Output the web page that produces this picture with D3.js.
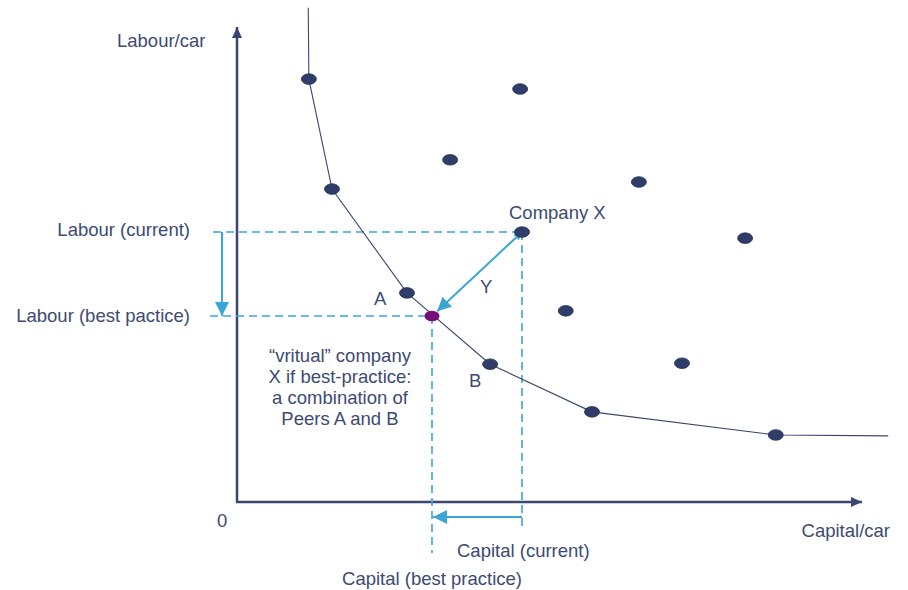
<!DOCTYPE html>
<html><head><meta charset="utf-8">
<script src="https://cdn.jsdelivr.net/npm/d3@7"></script>
<style>body{margin:0;background:#fff}svg{display:block}</style>
</head><body>
<svg id="c" width="908" height="590"></svg>
<script>
// Peer companies (capital per car, labour per car)
const peerCapital = [11.5, 45.3, 34.1, 15.2, 64.3, 81.3, 27.2, 52.6, 40.5, 71.2, 56.8, 86.2];
const peerLabour  = [89.6, 87.5, 72.5, 66.3, 67.8, 55.9, 44.3, 40.5, 29.2, 29.4, 19.1, 14.2];
// Efficient frontier
const frontierCapital = [11.4, 11.5, 15.2, 27.2, 40.5, 56.8, 86.2, 104.2];
const frontierLabour  = [104.7, 89.6, 66.3, 44.3, 29.2, 19.1, 14.2, 14.0];
// Company X and its virtual best-practice counterpart
const companyX = [45.6, 57.2];
const virtualX = [31.2, 39.4];
const virtualLines = ["\u201Cvritual\u201D company", "X if best-practice:", "a combination of", "Peers A and B"];

const W = 908, H = 590;
const x = d3.scaleLinear().domain([0, 100]).range([237, 862]);
const y = d3.scaleLinear().domain([0, 100]).range([502, 30]);

const svg = d3.select("#c");
const navy = "#3a4670", dot = "#2f3d68", blue = "#3aa6d6", txt = "#3d4a72", purple = "#7a0c7a";
const font = "Liberation Sans, Arial, sans-serif";

const defs = svg.append("defs");
function marker(id, color, w, h) {
  defs.append("marker").attr("id", id).attr("viewBox", `0 0 ${w} ${h}`)
    .attr("refX", w).attr("refY", h/2).attr("markerWidth", w).attr("markerHeight", h)
    .attr("markerUnits", "userSpaceOnUse").attr("orient", "auto-start-reverse")
    .append("path").attr("d", `M0,0L${w},${h/2}L0,${h}Z`).attr("fill", color);
}
marker("ax", navy, 11, 10);
marker("bl", blue, 14, 14);
marker("bls", blue, 8, 8);

// axes
svg.append("line").attr("x1", x(0)).attr("x2", x(0)).attr("y1", y(0)).attr("y2", y(100)-3)
  .attr("stroke", navy).attr("stroke-width", 2.5).attr("marker-end", "url(#ax)");
svg.append("line").attr("x1", x(0)-1).attr("x2", x(100)).attr("y1", y(0)).attr("y2", y(0))
  .attr("stroke", navy).attr("stroke-width", 2.5).attr("marker-end", "url(#ax)");

// dashed guide lines
const dash = "8,5";
function dl(x1, y1, x2, y2) {
  svg.append("line").attr("x1", x1).attr("y1", y1).attr("x2", x2).attr("y2", y2)
    .attr("stroke", blue).attr("stroke-width", 1.6).attr("stroke-dasharray", dash);
}
dl(213, y(companyX[1]), x(companyX[0]), y(companyX[1]));
dl(x(companyX[0]), y(companyX[1]), x(companyX[0]), 531);
dl(210, y(virtualX[1]), x(virtualX[0]), y(virtualX[1]));
dl(x(virtualX[0]), y(virtualX[1]), x(virtualX[0]), 553);

// frontier
svg.append("path").datum(frontierCapital.map((c, i) => [c, frontierLabour[i]]))
  .attr("d", d3.line().x(d => x(d[0])).y(d => y(d[1])))
  .attr("fill", "none").attr("stroke", navy).attr("stroke-width", 1.1);

// arrows
svg.append("line").attr("x1", 222).attr("x2", 222).attr("y1", y(companyX[1])).attr("y2", y(virtualX[1]))
  .attr("stroke", blue).attr("stroke-width", 2).attr("marker-end", "url(#bl)");
svg.append("line").attr("x1", x(companyX[0])).attr("x2", x(virtualX[0]) + 1).attr("y1", 517).attr("y2", 517)
  .attr("stroke", blue).attr("stroke-width", 2).attr("marker-end", "url(#bl)");
{
  const x1 = x(companyX[0]), y1 = y(companyX[1]), x2 = x(virtualX[0]), y2 = y(virtualX[1]);
  const dx = x2 - x1, dy = y2 - y1, L = Math.hypot(dx, dy);
  svg.append("line").attr("x1", x1).attr("y1", y1)
    .attr("x2", x2 - dx / L * 7).attr("y2", y2 - dy / L * 7)
    .attr("stroke", blue).attr("stroke-width", 2)
    .attr("marker-end", "url(#bl)").attr("marker-start", "url(#bls)");
}

// peers
svg.selectAll("ellipse.p").data(peerCapital.map((c, i) => [c, peerLabour[i]])).join("ellipse")
  .attr("class", "p").attr("cx", d => x(d[0])).attr("cy", d => y(d[1]))
  .attr("rx", 7.5).attr("ry", 5.3).attr("fill", dot).attr("stroke", "#25305a").attr("stroke-width", 0.8);
svg.append("ellipse").attr("cx", x(companyX[0])).attr("cy", y(companyX[1])).attr("rx", 7.5).attr("ry", 5.3)
  .attr("fill", dot).attr("stroke", "#25305a").attr("stroke-width", 0.8);
svg.append("ellipse").attr("cx", x(virtualX[0])).attr("cy", y(virtualX[1])).attr("rx", 7.5).attr("ry", 5.3)
  .attr("fill", purple);

// texts
function t(s, px, py, anchor) {
  svg.append("text").attr("x", px).attr("y", py).attr("text-anchor", anchor || "start")
    .attr("font-family", font).attr("font-size", 18.5).attr("fill", txt).text(s);
}
t("Labour/car", 117, 47);
t("Labour (current)", 190, 236, "end");
t("Labour (best pactice)", 190, 322, "end");
t("0", 217, 527);
t("Capital/car", 890, 537, "end");
t("Capital (current)", 457, 557);
t("Capital (best practice)", 432, 585, "middle");
t("Company X", 509, 219);
t("A", 374, 305);
t("Y", 480, 293);
t("B", 469, 387);
virtualLines.forEach((s, i) => t(s, 340, 362 + i * 21, "middle"));
</script>
</body></html>
